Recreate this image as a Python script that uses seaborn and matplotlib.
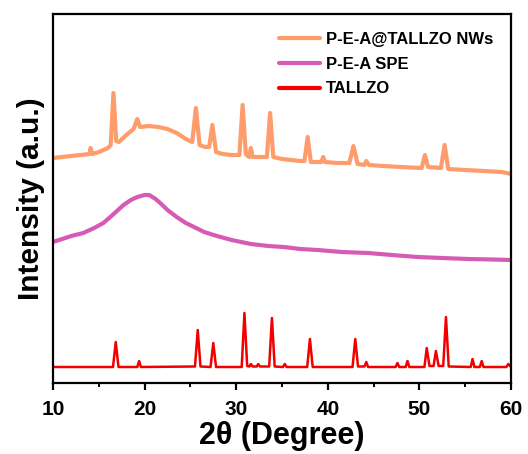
import matplotlib
matplotlib.use("Agg")
import matplotlib.pyplot as plt
from matplotlib.ticker import MultipleLocator
import seaborn as sns
import pandas as pd

# ---- data (x in degrees 2theta, intensity in a.u.) ----
tallzo_x = [10, 16.55, 16.85, 17.15, 19.2, 19.4, 19.6, 25.5, 25.8, 26.1, 27.2, 27.5, 27.8,
            30.6, 30.9, 31.2, 31.45, 31.6, 31.8, 32.25, 32.4, 32.6, 33.6, 33.9, 34.2,
            35.1, 35.3, 35.5, 37.75, 38.05, 38.35, 42.7, 43.0, 43.3, 44.0, 44.2, 44.4,
            47.4, 47.6, 47.8, 48.5, 48.7, 48.9, 50.55, 50.8, 51.1, 51.55, 51.8, 52.1,
            52.6, 52.9, 53.2, 55.6, 55.8, 56.0, 56.6, 56.8, 57.0, 59.5, 59.7, 60]
tallzo_y = [16, 16, 41, 16, 16, 22, 16, 16.5, 53, 16.5, 16, 40, 16,
            16, 70, 17, 16.5, 19, 16.5, 16.5, 19, 16.5, 16.5, 65, 16.5,
            16, 19, 16, 16, 44, 16, 16, 44, 16.5, 16.5, 21, 16,
            16, 20, 16, 16, 22, 16, 16, 35, 17, 17, 32, 17,
            17, 66, 16.5, 16, 24, 16, 16, 22, 16, 16, 19, 16]

spe_x = [10, 11, 12, 13.3, 14.5, 15.5, 16.5, 17.7, 18.5, 19.2, 20.0, 20.5, 21.2, 21.7,
         22.5, 23.5, 24.5, 25.4, 26.5, 27.9, 29.5, 31.6, 33.5, 35.2, 37, 38.9, 41.5,
         44.4, 47, 49.8, 52.5, 55.3, 58, 60]
spe_y = [141, 144, 147, 150, 155, 160, 168, 178, 183, 186, 188, 188, 184, 180,
         173, 166, 160, 156, 151, 147, 143, 139, 137, 136, 134, 133, 131,
         130, 128, 126, 125, 124, 123.5, 123]

nws_x = [10, 11, 12, 13, 14, 14.1, 14.3, 15, 16, 16.3, 16.6, 16.9, 17.2, 18, 18.8,
         19.2, 19.5, 20.5, 21.5, 22.5, 23.5, 24.5, 25.2, 25.6, 26.0, 26.6, 27.05, 27.4,
         27.8, 28.5, 29.5, 30.35, 30.7, 31.05, 31.4, 31.6, 31.8, 32.5, 33.35, 33.7, 34.05,
         35, 36, 37, 37.45, 37.8, 38.15, 39.3, 39.5, 39.7, 41, 42.35, 42.8, 43.25, 44.0,
         44.2, 44.5, 46, 48, 50.25, 50.6, 50.95, 52.35, 52.75, 53.15, 55, 57, 59, 60]
nws_y = [225, 226, 227, 228, 229, 235, 229, 231, 235, 238, 290, 242, 241, 248, 254,
         264, 256, 257, 256, 254, 250, 244, 241, 275, 238, 236, 236, 258,
         231, 229, 228, 228, 278, 229, 226, 235, 226, 226, 226, 270, 226,
         224, 223, 222, 222, 246, 221, 221, 226, 221, 220, 220, 237, 219, 218,
         222, 218, 217, 216, 215, 228, 216, 215, 238, 214, 213, 212, 211, 209]

series_names = ["P-E-A@TALLZO NWs", "P-E-A SPE", "TALLZO"]
series_colors = ["#FF9C6C", "#D65BB5", "#F20000"]
x_ticks = [10, 20, 30, 40, 50, 60]

df = pd.concat([
    pd.DataFrame({"x": nws_x, "y": nws_y, "sample": series_names[0]}),
    pd.DataFrame({"x": spe_x, "y": spe_y, "sample": series_names[1]}),
    pd.DataFrame({"x": tallzo_x, "y": tallzo_y, "sample": series_names[2]}),
], ignore_index=True)

sns.set_style("ticks")
plt.rcParams["font.family"] = ["Liberation Sans", "DejaVu Sans"]
plt.rcParams["font.weight"] = "bold"
plt.rcParams["text.color"] = "black"
plt.rcParams["axes.labelcolor"] = "black"
plt.rcParams["xtick.color"] = "black"
plt.rcParams["ytick.color"] = "black"

fig = plt.figure(figsize=(5.28, 4.54), dpi=100)
ax = fig.add_axes([53 / 528, 1 - 383 / 454, (511 - 53) / 528, (383 - 14) / 454])

palette = dict(zip(series_names, series_colors))
for name, lw in zip(series_names, [3.0, 3.0, 1.8]):
    sub = df[df["sample"] == name]
    sns.lineplot(data=sub, x="x", y="y", color=palette[name], linewidth=lw,
                 label=name, ax=ax, sort=False, estimator=None)

ax.set_xlim(10, 60)
ax.set_ylim(0, 369)
ax.set_xticks(x_ticks)
ax.xaxis.set_minor_locator(MultipleLocator(5))
ax.set_yticks([])
ax.tick_params(axis="x", which="major", direction="out", length=5, width=1.6,
               labelsize=15, pad=7, labelcolor="black")
ax.tick_params(axis="x", which="minor", direction="out", length=3, width=1.4)
for lab in ax.get_xticklabels():
    lab.set_fontweight("bold")
for sp in ax.spines.values():
    sp.set_linewidth(1.6)
    sp.set_color("black")

ax.set_xlabel("2θ (Degree)", fontsize=22, fontweight="bold", labelpad=2)
ax.set_ylabel("Intensity (a.u.)", fontsize=21.5, fontweight="bold", labelpad=6)

leg = ax.legend(loc="upper left", bbox_to_anchor=(0.493, 0.951), frameon=False,
                borderaxespad=0, borderpad=0, handlelength=2.5, handletextpad=0.35,
                labelspacing=0.58, prop={"size": 12, "weight": "bold"})
for h in leg.get_lines():
    h.set_linewidth(3)
for t in leg.get_texts():
    t.set_color("black")

fig.savefig("out.png", dpi=100)
